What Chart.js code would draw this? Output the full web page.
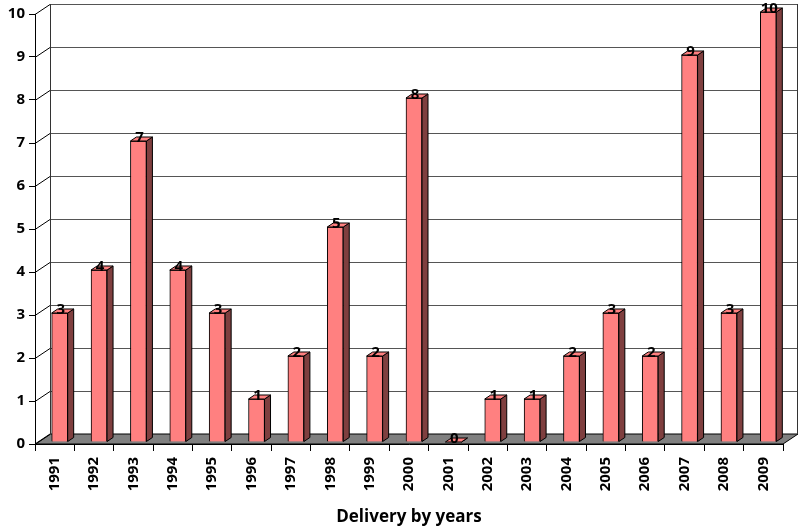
<!DOCTYPE html>
<html lang="en">
<head>
    <meta charset="UTF-8">
    <title>Delivery by years</title>
    <script src="https://cdn.jsdelivr.net/npm/chart.js"></script>
    <style>
        body { margin: 0; background: #fff; }
    </style>
</head>
<body>
    <canvas id="myChart" width="800" height="528"></canvas>

    <script>
    const years = ['1991','1992','1993','1994','1995','1996','1997','1998','1999','2000',
                   '2001','2002','2003','2004','2005','2006','2007','2008','2009']
    const deliveries = [3, 4, 7, 4, 3, 1, 2, 5, 2, 8, 0, 1, 1, 2, 3, 2, 9, 3, 10]
    const yTicks = [0, 1, 2, 3, 4, 5, 6, 7, 8, 9, 10]

    const FONT = "'Open Sans', 'DejaVu Sans', sans-serif"
    // depth of the back wall and of each bar
    const wallDx = 15, wallDy = -10
    const barShiftX = 5, barShiftY = -2
    const barDx = 6, barDy = -4

    // floor, back wall gridlines and left wall diagonals
    const wallPlugin = {
        id: 'wall',
        beforeDatasetsDraw(chart) {
            const c = chart.ctx
            const a = chart.chartArea
            const y = chart.scales.y
            const b = y.getPixelForValue(0)
            c.save()
            // floor
            c.beginPath()
            c.moveTo(a.left, b)
            c.lineTo(a.right, b)
            c.lineTo(a.right + wallDx, b + wallDy)
            c.lineTo(a.left + wallDx, b + wallDy)
            c.closePath()
            c.fillStyle = '#808080'
            c.fill()
            c.lineWidth = 1
            c.strokeStyle = '#000'
            c.stroke()
            // back wall gridlines
            c.strokeStyle = '#555'
            yTicks.forEach(v => {
                const py = Math.round(y.getPixelForValue(v)) + 0.5
                if (v > 0) {
                    c.beginPath()
                    c.moveTo(a.left + wallDx, py + wallDy)
                    c.lineTo(a.right + wallDx, py + wallDy)
                    c.stroke()
                }
                c.beginPath()
                c.strokeStyle = '#000'
                c.moveTo(a.left, py)
                c.lineTo(a.left + wallDx, py + wallDy)
                c.stroke()
                c.strokeStyle = '#555'
            })
            const top = y.getPixelForValue(10)
            c.strokeStyle = '#333'
            c.beginPath()
            c.moveTo(a.left + wallDx + 0.5, b + wallDy)
            c.lineTo(a.left + wallDx + 0.5, top + wallDy)
            c.moveTo(a.right + wallDx - 0.5, b + wallDy)
            c.lineTo(a.right + wallDx - 0.5, top + wallDy)
            c.stroke()
            c.restore()
            // shift bars back a little into the box
            c.save()
            c.translate(barShiftX, barShiftY)
        },
        afterDatasetsDraw(chart) {
            const c = chart.ctx
            const meta = chart.getDatasetMeta(0)
            meta.data.forEach((bar, i) => {
                const half = bar.width / 2
                const l = bar.x - half, r = bar.x + half
                const t = bar.y, bt = bar.base
                c.lineWidth = 1
                c.strokeStyle = '#000'
                // side face
                c.beginPath()
                c.moveTo(r, bt)
                c.lineTo(r + barDx, bt + barDy)
                c.lineTo(r + barDx, t + barDy)
                c.lineTo(r, t)
                c.closePath()
                c.fillStyle = '#7f3f3f'
                c.fill()
                c.stroke()
                // top face
                c.beginPath()
                c.moveTo(l, t)
                c.lineTo(r, t)
                c.lineTo(r + barDx, t + barDy)
                c.lineTo(l + barDx, t + barDy)
                c.closePath()
                c.fillStyle = '#ff8080'
                c.fill()
                c.stroke()
            })
            // value labels
            c.fillStyle = '#000'
            c.font = 'bold 15px ' + FONT
            c.textAlign = 'center'
            c.textBaseline = 'middle'
            meta.data.forEach((bar, i) => {
                c.fillText(String(deliveries[i]), bar.x + 1, bar.y - 3)
            })
            c.restore()
        }
    }

    const ctx = document.getElementById('myChart')

    const chartConfig = {
        type: 'bar',
        data: {
            labels: years,
            datasets: [{
                label: 'Delivery',
                data: deliveries,
                backgroundColor: '#ff8080',
                borderColor: '#000',
                borderWidth: 1,
                barThickness: 16,
            }]
        },
        options: {
            responsive: false,
            animation: false,
            layout: { padding: { top: 14, right: 17, left: 0, bottom: 0 } },
            plugins: {
                legend: { display: false },
                tooltip: { enabled: false },
            },
            scales: {
                x: {
                    afterFit(scale) { scale.height = 84 },
                    border: { display: true, color: '#000', width: 1 },
                    grid: { display: true, drawOnChartArea: false, tickLength: 7, color: '#000', offset: true },
                    ticks: {
                        autoSkip: false, minRotation: 90, maxRotation: 90, padding: 6,
                        color: '#000', font: { family: FONT, size: 15, weight: 'bold' }
                    },
                    title: {
                        display: true, text: 'Delivery by years', color: '#000',
                        font: { family: FONT, size: 17, weight: 'bold' },
                        padding: { top: 0, bottom: 1 }
                    }
                },
                y: {
                    min: 0,
                    max: 10,
                    afterFit(scale) { scale.width = 35 },
                    border: { display: true, color: '#000', width: 1 },
                    grid: { display: true, drawOnChartArea: false, tickLength: 6, color: '#000' },
                    ticks: {
                        stepSize: 1, padding: 4, color: '#000',
                        font: { family: FONT, size: 15, weight: 'bold' }
                    }
                }
            }
        },
        plugins: [wallPlugin]
    }
    const myChart = new Chart(ctx, chartConfig)
    </script>
</body>
</html>
